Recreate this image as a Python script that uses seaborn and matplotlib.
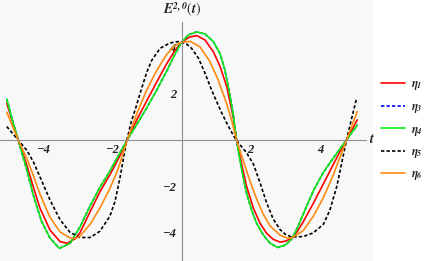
import numpy as np
import pandas as pd
import matplotlib
matplotlib.use("Agg")
import matplotlib.pyplot as plt
import seaborn as sns
from matplotlib.ticker import FixedLocator

# --- values ---
t_green = [-5.05, -4.90, -4.72, -4.47, -4.28, -4.05, -3.80, -3.53, -3.22, -2.93, -2.64, -2.36,
           -2.07, -1.78, -1.57, -1.29, -1.01, -0.72, -0.43, -0.20, 0.0, 0.20, 0.44, 0.68, 0.92,
           1.11, 1.25, 1.40, 1.50, 1.59, 1.68, 1.78, 1.88, 2.03, 2.17, 2.36, 2.56, 2.78, 3.00,
           3.18, 3.35, 3.52, 3.81, 4.10, 4.39, 4.58, 4.77, 5.08]
eta4 = [1.77, 0.92, 0.0, -1.30, -2.40, -3.50, -4.25, -4.69, -4.47, -3.75, -2.85, -2.05,
        -1.35, -0.55, 0.0, 0.68, 1.38, 2.15, 2.98, 3.68, 4.23, 4.55, 4.68, 4.59, 4.26,
        3.75, 3.05, 1.95, 1.05, 0.0, -0.80, -1.60, -2.30, -3.05, -3.60, -4.10, -4.47, -4.65, -4.55,
        -4.30, -3.80, -3.20, -2.20, -1.40, -0.78, -0.38, 0.0, 0.65]
eta3 = eta4  # blue dashed curve sits under the green one

t_red = [-5.05, -4.72, -4.47, -4.28, -4.09, -3.80, -3.51, -3.30, -3.05, -2.93, -2.64, -2.36,
         -2.05, -1.78, -1.57, -1.29, -1.01, -0.72, -0.43, -0.20, 0.0, 0.22, 0.44, 0.68, 0.92,
         1.11, 1.31, 1.50, 1.59, 1.74, 1.88, 2.08, 2.27, 2.46, 2.65, 2.85, 3.00, 3.18, 3.35,
         3.52, 3.81, 4.10, 4.39, 4.58, 4.77, 5.08]
eta1 = [1.59, 0.0, -1.10, -2.05, -2.95, -3.90, -4.40, -4.47, -4.25, -4.00, -3.10, -2.25,
        -1.45, -0.68, 0.0, 0.88, 1.68, 2.50, 3.30, 3.85, 4.23, 4.45, 4.52, 4.33, 3.82,
        3.20, 2.30, 0.95, 0.0, -1.05, -2.00, -2.96, -3.60, -4.04, -4.30, -4.42, -4.38, -4.26, -3.95,
        -3.54, -2.74, -1.90, -1.05, -0.50, 0.0, 0.87]

t_orange = [-5.05, -4.72, -4.47, -4.28, -4.09, -3.80, -3.51, -3.22, -3.05, -2.93, -2.64, -2.36,
            -2.07, -1.83, -1.57, -1.29, -1.01, -0.72, -0.43, -0.20, 0.0, 0.25, 0.53, 0.82, 1.06,
            1.31, 1.45, 1.59, 1.79, 1.98, 2.17, 2.36, 2.56, 2.85, 3.05, 3.18, 3.52, 3.81, 4.10,
            4.39, 4.58, 4.77, 5.08]
eta6 = [1.20, 0.0, -0.80, -1.55, -2.35, -3.35, -3.98, -4.24, -4.26, -4.15, -3.65, -2.95,
        -2.10, -1.25, 0.0, 1.15, 2.15, 3.00, 3.70, 4.08, 4.23, 4.27, 4.04, 3.40, 2.60,
        1.55, 0.85, 0.0, -0.92, -1.78, -2.55, -3.20, -3.72, -4.12, -4.24, -4.25, -3.92, -3.30, -2.50,
        -1.50, -0.75, 0.0, 1.23]

t_black = [-5.05, -4.72, -4.47, -4.28, -4.09, -3.80, -3.51, -3.22, -2.93, -2.64, -2.36, -2.07,
           -1.92, -1.78, -1.68, -1.58, -1.45, -1.30, -1.15, -1.00, -0.86, -0.62, -0.33, -0.10, 0.0,
           0.15, 0.29, 0.49, 0.68, 0.87, 1.02, 1.16, 1.31, 1.45, 1.58, 1.73, 1.88, 2.08, 2.27,
           2.46, 2.65, 2.85, 3.00, 3.18, 3.52, 3.81, 4.10, 4.29, 4.49, 4.63, 4.77, 4.92, 5.06]
eta5 = [0.58, 0.0, -0.45, -0.95, -1.60, -2.60, -3.45, -4.00, -4.22, -4.22, -3.95, -3.30,
        -2.65, -1.65, -0.82, 0.0, 0.80, 1.50, 2.25, 2.95, 3.45, 3.97, 4.20, 4.26, 4.23,
        4.15, 3.97, 3.54, 2.89, 2.16, 1.65, 1.18, 0.72, 0.33, 0.0, -0.28, -0.55, -1.05, -1.85,
        -2.72, -3.42, -3.88, -4.08, -4.20, -4.18, -4.02, -3.65, -3.03, -2.00, -1.00, 0.0, 0.95, 1.80]

names = ["η1", "η3", "η4", "η5", "η6"]
colors = ["#ff0000", "#0000ff", "#10ee10", "#000000", "#ff8a10"]

frames = []
for name, t, v in [("η1", t_red, eta1), ("η3", t_green, eta3), ("η4", t_green, eta4),
                   ("η5", t_black, eta5), ("η6", t_orange, eta6)]:
    frames.append(pd.DataFrame({"t": t, "E": v, "curve": name}))
df = pd.concat(frames, ignore_index=True)

# --- plot ---
sns.set_theme(style="white")
plt.rcParams["font.family"] = ["Liberation Serif", "DejaVu Serif"]
plt.rcParams["mathtext.fontset"] = "stix"

fig = plt.figure(figsize=(4.25, 2.61), dpi=100)
ax = fig.add_axes([0, 0, 373 / 425, 1])
ax.set_facecolor("#f8f8f8")

sns.lineplot(data=df, x="t", y="E", hue="curve", style="curve",
             hue_order=names, style_order=names,
             palette=dict(zip(names, colors)),
             dashes={"η1": "", "η3": (2, 1.3), "η4": "", "η5": (2, 1.3), "η6": ""},
             estimator=None, sort=False, linewidth=1.2, ax=ax)

ax.set_xlim(-5.246, 5.535)
ax.set_ylim(-5.238, 6.06)

for side in ["top", "right"]:
    ax.spines[side].set_visible(False)
ax.spines["left"].set_position(("data", 0))
ax.spines["bottom"].set_position(("data", 0))
ax.spines["left"].set_bounds(-5.24, 5.12)
ax.spines["bottom"].set_bounds(-5.246, 5.33)
for side in ["left", "bottom"]:
    ax.spines[side].set_color("#8f8f8f")
    ax.spines[side].set_linewidth(0.8)

major = [-4, -2, 2, 4]
minor = [m for m in np.arange(-5.0, 5.01, 0.5) if m not in major and m != 0]
ax.xaxis.set_major_locator(FixedLocator(major))
ax.yaxis.set_major_locator(FixedLocator(major))
ax.xaxis.set_minor_locator(FixedLocator(minor))
ax.yaxis.set_minor_locator(FixedLocator(minor))
ax.set_xticklabels(["−4", "−2", "2", "4"])
ax.set_yticklabels(["−4", "−2", "2", "4"])
ax.tick_params(which="both", direction="in", color="#8f8f8f", width=0.7)
ax.tick_params(which="major", length=3.2)
ax.tick_params(which="minor", length=1.8)
ax.tick_params(axis="x", which="major", pad=3, labelsize=9)
ax.tick_params(axis="y", which="major", pad=4, labelsize=9)
for lab in ax.get_xticklabels() + ax.get_yticklabels():
    lab.set_fontstyle("italic")
    lab.set_fontweight("bold")
    lab.set_color("#222222")

ax.set_xlabel("$\\mathbfit{t}$", fontsize=10)
ax.xaxis.set_label_coords(0.99, 0.464)
ax.xaxis.label.set_va("center")
ax.xaxis.label.set_ha("left")
ax.set_ylabel("$\\mathbfit{E}^{\\mathbfit{2,0}}(\\mathbfit{t})$", fontsize=10, rotation=0)
ax.yaxis.set_label_coords(0.488, 0.962)
ax.yaxis.label.set_va("center")
ax.yaxis.label.set_ha("center")

leg_labels = ["$\\mathbfit{\\eta}_{\\mathbfit{%s}}$" % n[1] for n in names]
handles = ax.get_legend().legend_handles
ax.get_legend().remove()
fig.legend(handles, leg_labels, loc="center left", bbox_to_anchor=(381 / 425, 0.50),
           frameon=False, borderaxespad=0, borderpad=0, handlelength=2.0,
           handletextpad=0.55, labelspacing=0.72, fontsize=8.5)

plt.savefig("out.png", dpi=100)
